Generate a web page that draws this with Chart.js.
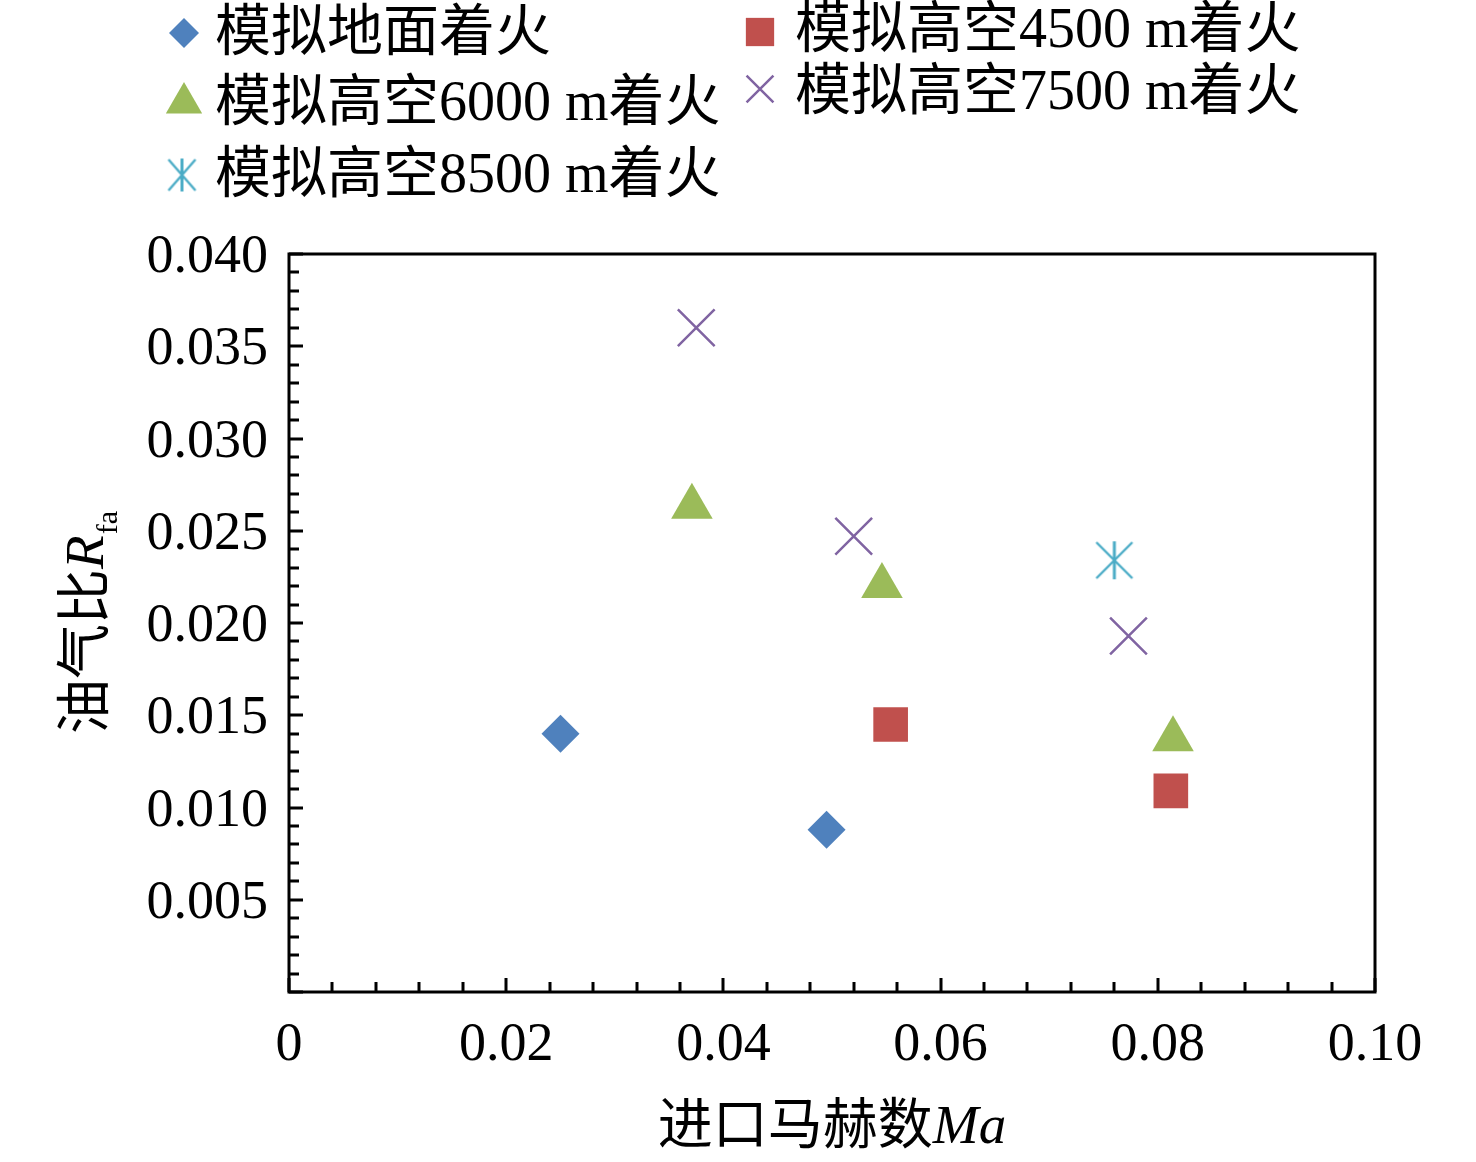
<!DOCTYPE html>
<html>
<head>
<meta charset="utf-8">
<script src="https://cdn.jsdelivr.net/npm/chart.js@4/dist/chart.umd.min.js"></script>
<style>
html,body{margin:0;padding:0;background:#fff;}
#wrap{width:1476px;height:1162px;position:relative;}
canvas{display:block;}
</style>
</head>
<body>
<div id="wrap"><canvas id="c" width="1476" height="1162"></canvas></div>
<script>
// ---- data ----
const seriesNames = ['模拟地面着火', '模拟高空4500 m着火', '模拟高空6000 m着火', '模拟高空7500 m着火', '模拟高空8500 m着火'];
const groundX = [0.0250, 0.0495];
const groundY = [0.0140, 0.0088];
const alt4500X = [0.0554, 0.0812];
const alt4500Y = [0.0145, 0.0109];
const alt6000X = [0.0371, 0.0546, 0.0814];
const alt6000Y = [0.0263, 0.0220, 0.0137];
const alt7500X = [0.0375, 0.0520, 0.0773];
const alt7500Y = [0.0360, 0.0247, 0.0193];
const alt8500X = [0.0760];
const alt8500Y = [0.0234];

const xTickValues = [0, 0.02, 0.04, 0.06, 0.08, 0.10];
const xTickLabels = ['0', '0.02', '0.04', '0.06', '0.08', '0.10'];
const xMinorValues = [0.004, 0.008, 0.012, 0.016, 0.024, 0.028, 0.032, 0.036, 0.044, 0.048, 0.052, 0.056, 0.064, 0.068, 0.072, 0.076, 0.084, 0.088, 0.092, 0.096];
const yTickValues = [0, 0.005, 0.010, 0.015, 0.020, 0.025, 0.030, 0.035, 0.040];
const yTickLabels = ['', '0.005', '0.010', '0.015', '0.020', '0.025', '0.030', '0.035', '0.040'];
const yMinorValues = [0.001, 0.002, 0.003, 0.004, 0.006, 0.007, 0.008, 0.009, 0.011, 0.012, 0.013, 0.014, 0.016, 0.017, 0.018, 0.019, 0.021, 0.022, 0.023, 0.024, 0.026, 0.027, 0.028, 0.029, 0.031, 0.032, 0.033, 0.034, 0.036, 0.037, 0.038, 0.039];
const xTitleMain = '进口马赫数';
const xTitleItalic = 'Ma';
const yTitleMain = '油气比';
const yTitleItalic = 'R';
const yTitleSub = 'fa';

// ---- styling ----
const FONT = "'Liberation Serif', 'Times New Roman', 'Noto Sans CJK SC', serif";
const colors = ['#4F81BD', '#C0504D', '#9BBB59', '#8064A2', '#4BACC6'];

function makeStar(w, h, color) {
  const c = document.createElement('canvas');
  c.width = w; c.height = h;
  const g = c.getContext('2d');
  g.strokeStyle = color;
  g.lineCap = 'butt';
  g.lineWidth = 3;
  g.beginPath(); g.moveTo(w / 2, 1); g.lineTo(w / 2, h - 1); g.stroke();
  g.lineWidth = 2.4;
  g.beginPath();
  g.moveTo(2, 2); g.lineTo(w - 2, h - 2);
  g.moveTo(w - 2, 2); g.lineTo(2, h - 2);
  g.stroke();
  return c;
}
const starPlot = makeStar(40, 40, colors[4]);
const starLegend = makeStar(31, 35, colors[4]);

function pts(xs, ys) { return xs.map((v, i) => ({ x: v, y: ys[i] })); }

const datasets = [
  { label: seriesNames[0], data: pts(groundX, groundY), pointStyle: 'rectRot', pointRadius: 19, backgroundColor: colors[0], borderColor: colors[0], borderWidth: 0 },
  { label: seriesNames[1], data: pts(alt4500X, alt4500Y), pointStyle: 'rect', pointRadius: 24.5, backgroundColor: colors[1], borderColor: colors[1], borderWidth: 0 },
  { label: seriesNames[2], data: pts(alt6000X, alt6000Y), pointStyle: 'triangle', pointRadius: 24, backgroundColor: colors[2], borderColor: colors[2], borderWidth: 0 },
  { label: seriesNames[3], data: pts(alt7500X, alt7500Y), pointStyle: 'crossRot', pointRadius: 26, backgroundColor: colors[3], borderColor: colors[3], borderWidth: 2.5 },
  { label: seriesNames[4], data: pts(alt8500X, alt8500Y), pointStyle: starPlot, pointRadius: 20, backgroundColor: colors[4], borderColor: colors[4], borderWidth: 0 }
];

// legend layout (positions only)
const legendLayout = [
  { mx: 184, my: 33, tx: 215, ty: 35, r: 15 },
  { mx: 760, my: 32, tx: 795, ty: 32, r: 20 },
  { mx: 184, my: 103, tx: 215, ty: 105, r: 21 },
  { mx: 760, my: 89, tx: 795, ty: 94, r: 19 },
  { mx: 182, my: 175, tx: 215, ty: 177, r: 16, img: starLegend }
];

function drawMarker(ctx, ds, x, y, r, img) {
  ctx.save();
  ctx.fillStyle = ds.backgroundColor;
  ctx.strokeStyle = ds.borderColor;
  ctx.lineWidth = ds.borderWidth;
  const style = img || ds.pointStyle;
  if (typeof style !== 'string') {
    ctx.drawImage(style, x - style.width / 2, y - style.height / 2);
  } else if (Chart.helpers && Chart.helpers.drawPoint) {
    Chart.helpers.drawPoint(ctx, { pointStyle: style, rotation: 0, radius: r, borderWidth: ds.borderWidth }, x, y);
  }
  ctx.restore();
}

const decor = {
  id: 'decor',
  afterDraw(chart) {
    const { ctx, chartArea: a, scales } = chart;
    const xs = scales.x, ys = scales.y;
    ctx.save();
    // frame
    ctx.strokeStyle = '#000';
    ctx.lineWidth = 3;
    ctx.strokeRect(a.left, a.top, a.right - a.left, a.bottom - a.top);
    // inward ticks
    ctx.beginPath();
    xTickValues.forEach(v => { const p = Math.round(xs.getPixelForValue(v)); ctx.moveTo(p, a.bottom); ctx.lineTo(p, a.bottom - 14); });
    xMinorValues.forEach(v => { const p = Math.round(xs.getPixelForValue(v)); ctx.moveTo(p, a.bottom); ctx.lineTo(p, a.bottom - 10); });
    yTickValues.forEach(v => { const p = Math.round(ys.getPixelForValue(v)); ctx.moveTo(a.left, p); ctx.lineTo(a.left + 14, p); });
    yMinorValues.forEach(v => { const p = Math.round(ys.getPixelForValue(v)); ctx.moveTo(a.left, p); ctx.lineTo(a.left + 10, p); });
    ctx.stroke();

    // x title
    ctx.fillStyle = '#000';
    ctx.textBaseline = 'alphabetic';
    const fMain = '55px ' + FONT, fIt = 'italic 55px ' + FONT;
    ctx.font = fMain; const w1 = ctx.measureText(xTitleMain).width;
    ctx.font = fIt; const w2 = ctx.measureText(xTitleItalic).width;
    let sx = (a.left + a.right) / 2 - (w1 + w2) / 2;
    const by = 1143;
    ctx.font = fMain; ctx.textAlign = 'left'; ctx.fillText(xTitleMain, sx, by);
    ctx.font = fIt; ctx.fillText(xTitleItalic, sx + w1, by);

    // y title (rotated)
    ctx.save();
    const cy = (a.top + a.bottom) / 2;
    ctx.translate(103, cy);
    ctx.rotate(-Math.PI / 2);
    ctx.font = fMain; const v1 = ctx.measureText(yTitleMain).width;
    ctx.font = fIt; const v2 = ctx.measureText(yTitleItalic).width;
    const fSub = '30px ' + FONT;
    ctx.font = fSub; const v3 = ctx.measureText(yTitleSub).width;
    let tx = -(v1 + v2 + v3) / 2;
    ctx.font = fMain; ctx.fillText(yTitleMain, tx, 0);
    ctx.font = fIt; ctx.fillText(yTitleItalic, tx + v1, 0);
    ctx.font = fSub; ctx.fillText(yTitleSub, tx + v1 + v2 + 1, 14);
    ctx.restore();

    // legend
    chart.data.datasets.forEach((ds, i) => {
      const L = legendLayout[i];
      drawMarker(ctx, ds, L.mx, L.my, L.r, L.img);
      ctx.fillStyle = '#000';
      ctx.font = '56px ' + FONT;
      ctx.textAlign = 'left';
      ctx.textBaseline = 'middle';
      ctx.fillText(ds.label, L.tx, L.ty);
    });
    ctx.restore();
  }
};

new Chart(document.getElementById('c'), {
  type: 'scatter',
  data: { datasets },
  options: {
    responsive: false,
    animation: false,
    devicePixelRatio: 1,
    layout: { padding: { top: 254, right: 101, left: 0, bottom: 0 } },
    plugins: { legend: { display: false }, tooltip: { enabled: false } },
    scales: {
      x: {
        type: 'linear', min: 0, max: 0.1,
        grid: { display: false, drawTicks: false },
        border: { display: false },
        afterBuildTicks: s => { s.ticks = xTickValues.map(v => ({ value: v })); },
        afterFit: s => { s.height = 170; },
        ticks: {
          autoSkip: false, maxRotation: 0, padding: 21, color: '#000',
          font: { family: FONT, size: 54 },
          callback: (v, i) => xTickLabels[i]
        }
      },
      y: {
        type: 'linear', min: 0, max: 0.04,
        grid: { display: false, drawTicks: false },
        border: { display: false },
        afterBuildTicks: s => { s.ticks = yTickValues.map(v => ({ value: v })); },
        afterFit: s => { s.width = 289; },
        ticks: {
          autoSkip: false, padding: 21, color: '#000', labelOffset: 4,
          font: { family: FONT, size: 54 },
          callback: (v, i) => yTickLabels[i]
        }
      }
    }
  },
  plugins: [decor]
});
</script>
</body>
</html>
